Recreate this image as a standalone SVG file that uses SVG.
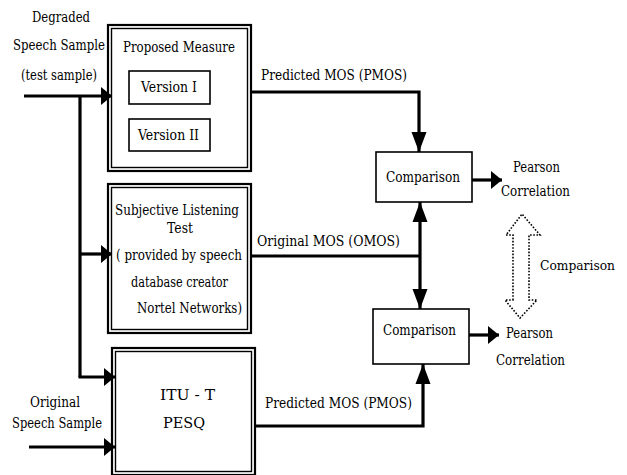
<svg xmlns="http://www.w3.org/2000/svg" width="627" height="475" viewBox="0 0 627 475" font-family="DejaVu Serif">
<style>
text{font-family:"DejaVu Serif",serif;font-size:15px;fill:#000}
.outer{fill:#fff;stroke:#000;stroke-width:2.2}
.inner{fill:none;stroke:#000;stroke-width:1.4}
.box{fill:#fff;stroke:#000;stroke-width:1.6}
.ln{fill:none;stroke:#000;stroke-width:3.2}
.dot{fill:none;stroke:#000;stroke-width:1.6;stroke-dasharray:1.6 1.6}
</style>
<defs>
<marker id="mh" markerUnits="userSpaceOnUse" markerWidth="12" markerHeight="20" viewBox="0 0 12 20" refX="11" refY="10" orient="auto">
<path d="M0,1 L11,10 L0,19 Z" fill="#000"/>
</marker>
<marker id="mv" markerUnits="userSpaceOnUse" markerWidth="21" markerHeight="16" viewBox="0 0 21 16" refX="20" refY="8" orient="auto">
<path d="M0,0.5 L20,8 L0,15.5 Z" fill="#000"/>
</marker>
</defs>
<g id="labels-in">
<text x="32" y="22" textLength="58" lengthAdjust="spacingAndGlyphs">Degraded</text>
<text x="13" y="50" textLength="92" lengthAdjust="spacingAndGlyphs">Speech Sample</text>
<text x="21" y="80" textLength="76" lengthAdjust="spacingAndGlyphs">(test sample)</text>
<text x="30" y="407" textLength="50" lengthAdjust="spacingAndGlyphs">Original</text>
<text x="12" y="428" textLength="90" lengthAdjust="spacingAndGlyphs">Speech Sample</text>
</g>
<g id="proposed">
<rect class="outer" x="108" y="25" width="143" height="146"/>
<rect class="inner" x="111.5" y="28.5" width="136" height="139"/>
<text x="123" y="52" textLength="112" lengthAdjust="spacingAndGlyphs">Proposed Measure</text>
<g id="v1"><rect class="box" x="129" y="71" width="81" height="33"/><text x="141" y="92" textLength="56" lengthAdjust="spacingAndGlyphs">Version I</text></g>
<g id="v2"><rect class="box" x="129" y="119" width="81" height="32"/><text x="138" y="140" textLength="61" lengthAdjust="spacingAndGlyphs">Version II</text></g>
</g>
<g id="subjective">
<rect class="outer" x="108" y="184" width="143" height="149"/>
<rect class="inner" x="111.5" y="187.5" width="136" height="142"/>
<text x="115" y="215" textLength="124" lengthAdjust="spacingAndGlyphs">Subjective Listening</text>
<text x="167" y="233" textLength="26" lengthAdjust="spacingAndGlyphs">Test</text>
<text x="116" y="260" textLength="126" lengthAdjust="spacingAndGlyphs">( provided by speech</text>
<text x="131" y="287" textLength="97" lengthAdjust="spacingAndGlyphs">database creator</text>
<text x="137" y="313" textLength="105" lengthAdjust="spacingAndGlyphs">Nortel Networks)</text>
</g>
<g id="pesq">
<rect class="outer" x="112" y="348" width="143" height="127"/>
<rect class="inner" x="115.5" y="351.5" width="136" height="120"/>
<text x="160" y="400" textLength="55" lengthAdjust="spacingAndGlyphs">ITU - T</text>
<text x="163" y="428" textLength="42" lengthAdjust="spacingAndGlyphs">PESQ</text>
</g>
<g id="comp1">
<rect class="box" x="376" y="152" width="96" height="50"/>
<text x="386" y="182" textLength="74" lengthAdjust="spacingAndGlyphs">Comparison</text>
</g>
<g id="comp2">
<rect class="box" x="373" y="309" width="96" height="55"/>
<text x="383" y="335" textLength="73" lengthAdjust="spacingAndGlyphs">Comparison</text>
</g>
<g id="connectors">
<path class="ln" d="M24,96 H112" marker-end="url(#mh)"/>
<path class="ln" d="M80,96 V377"/>
<path class="ln" d="M80,254 H112" marker-end="url(#mh)"/>
<path class="ln" d="M78.5,377 H115" marker-end="url(#mh)"/>
<path class="ln" d="M29,447 H115" marker-end="url(#mh)"/>
<path class="ln" d="M251,92 H419 V152" marker-end="url(#mv)"/>
<path class="ln" d="M251,256 H420"/>
<path class="ln" d="M420,256 V202" marker-end="url(#mv)"/>
<path class="ln" d="M420,256 V309" marker-end="url(#mv)"/>
<path class="ln" d="M255,426 H423 V364" marker-end="url(#mv)"/>
<path class="ln" d="M472,180 H502" marker-end="url(#mh)"/>
<path class="ln" d="M469,335 H499" marker-end="url(#mh)"/>
<path class="dot" d="M513,300 V235 H506 L522,214 L540,235 H529 V300 H537 L520,318 L505,300 Z"/>
</g>
<g id="labels-out">
<text x="261" y="80" textLength="146" lengthAdjust="spacingAndGlyphs">Predicted MOS (PMOS)</text>
<text x="257" y="246" textLength="143" lengthAdjust="spacingAndGlyphs">Original MOS (OMOS)</text>
<text x="265" y="408" textLength="147" lengthAdjust="spacingAndGlyphs">Predicted MOS (PMOS)</text>
<text x="513" y="172" textLength="47" lengthAdjust="spacingAndGlyphs">Pearson</text>
<text x="501" y="196" textLength="69" lengthAdjust="spacingAndGlyphs">Correlation</text>
<text x="506" y="338" textLength="47" lengthAdjust="spacingAndGlyphs">Pearson</text>
<text x="496" y="365" textLength="69" lengthAdjust="spacingAndGlyphs">Correlation</text>
<text x="540" y="270" style="font-size:13px" textLength="75" lengthAdjust="spacingAndGlyphs">Comparison</text>
</g>
</svg>
